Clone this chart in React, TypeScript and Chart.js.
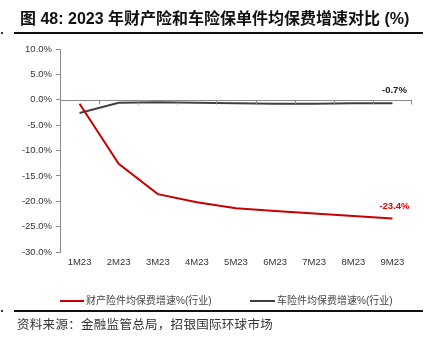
import React, { useEffect, useRef } from "react";
import { Chart, registerables } from "chart.js";

Chart.register(...registerables);

const categories = ["1M23", "2M23", "3M23", "4M23", "5M23", "6M23", "7M23", "8M23", "9M23"];
const propertyGrowth = [-0.8, -12.6, -18.6, -20.2, -21.4, -21.9, -22.4, -22.9, -23.4];
const autoGrowth = [-2.6, -0.6, -0.5, -0.6, -0.7, -0.8, -0.8, -0.7, -0.7];
const seriesNames = ["财产险件均保费增速%(行业)", "车险件均保费增速%(行业)"];
const seriesColors = ["#C80000", "#404040"];
const labelColors = ["#E00000", "#222222"];
const yMin = -30;
const yMax = 10;
const yStep = 5;

const titleText = "图 48: 2023 年财产险和车险保单件均保费增速对比 (%)";
const sourceText = "资料来源：金融监管总局，招银国际环球市场";

const zeroAxisPlugin = {
  id: "zeroAxis",
  afterDatasetsDraw(chart: any) {
    const { ctx, chartArea, scales } = chart;
    const y0 = Math.round(scales.y.getPixelForValue(0)) + 0.5;
    ctx.save();
    ctx.strokeStyle = "#8a8a8a";
    ctx.lineWidth = 1;
    ctx.beginPath();
    ctx.moveTo(chartArea.left, y0);
    ctx.lineTo(chartArea.right, y0);
    const n = categories.length;
    for (let i = 1; i <= n; i++) {
      const xx =
        i < n
          ? Math.round((scales.x.getPixelForValue(i - 1) + scales.x.getPixelForValue(i)) / 2) + 0.5
          : Math.round(chartArea.right) - 0.5;
      ctx.moveTo(xx, y0);
      ctx.lineTo(xx, y0 + 4);
    }
    ctx.stroke();
    ctx.restore();
  },
};

const endLabelPlugin = {
  id: "endLabels",
  afterDatasetsDraw(chart: any) {
    const { ctx } = chart;
    ctx.save();
    ctx.font = "bold 9.5px 'Liberation Sans', Arial, sans-serif";
    ctx.textAlign = "center";
    ctx.textBaseline = "middle";
    chart.data.datasets.forEach((ds: any, di: number) => {
      const meta = chart.getDatasetMeta(di);
      const last = meta.data[meta.data.length - 1];
      const v = ds.data[ds.data.length - 1];
      ctx.fillStyle = labelColors[di];
      ctx.fillText(v.toFixed(1) + "%", last.x + 2, last.y - 12.5);
    });
    ctx.restore();
  },
};

export default function App() {
  const canvasRef = useRef<HTMLCanvasElement | null>(null);

  useEffect(() => {
    if (!canvasRef.current) return;
    const chart = new Chart(canvasRef.current, {
      type: "line",
      data: {
        labels: categories,
        datasets: [
          {
            label: seriesNames[0],
            data: propertyGrowth,
            borderColor: seriesColors[0],
            backgroundColor: seriesColors[0],
            borderWidth: 2,
            pointRadius: 0,
            tension: 0,
          },
          {
            label: seriesNames[1],
            data: autoGrowth,
            borderColor: seriesColors[1],
            backgroundColor: seriesColors[1],
            borderWidth: 2,
            pointRadius: 0,
            tension: 0,
          },
        ],
      },
      options: {
        animation: false,
        responsive: false,
        maintainAspectRatio: false,
        layout: { padding: { left: 0, right: 26, top: 49, bottom: 62 } },
        plugins: {
          legend: { display: false },
          tooltip: { enabled: false },
        },
        scales: {
          x: {
            type: "category",
            offset: true,
            grid: { display: false, drawTicks: false },
            border: { display: false },
            ticks: {
              padding: 5,
              color: "#333333",
              font: { family: "'Liberation Sans', Arial, sans-serif", size: 9.5 },
              maxRotation: 0,
              autoSkip: false,
            },
            afterFit: (s: any) => {
              s.height = 30;
            },
          },
          y: {
            min: yMin,
            max: yMax,
            grid: {
              drawOnChartArea: false,
              drawTicks: true,
              tickLength: 4,
              color: "#8a8a8a",
            },
            border: { display: true, color: "#8a8a8a", width: 1 },
            ticks: {
              stepSize: yStep,
              padding: 4,
              color: "#333333",
              font: { family: "'Liberation Sans', Arial, sans-serif", size: 9.5 },
              callback: (v: any) => Number(v).toFixed(1) + "%",
            },
            afterFit: (s: any) => {
              s.width = 60;
            },
          },
        },
      },
      plugins: [zeroAxisPlugin, endLabelPlugin],
    });
    return () => chart.destroy();
  }, []);

  const cjk = "'Liberation Sans', 'Noto Sans CJK SC', sans-serif";

  return (
    <div style={{ position: "fixed", left: 0, top: 0, width: 438, height: 344, background: "#ffffff", overflow: "hidden" }}>
      <canvas ref={canvasRef} width={438} height={344} style={{ position: "absolute", left: 0, top: 0, width: 438, height: 344 }} />
      <div style={{ position: "absolute", left: 20, top: 10, fontFamily: cjk, fontWeight: "bold", fontSize: 16, lineHeight: "17px", color: "#111", whiteSpace: "nowrap" }}>
        {titleText}
      </div>
      <div style={{ position: "absolute", left: 14, top: 32, width: 409, height: 2, background: "#111" }} />
      <div style={{ position: "absolute", left: 1, top: 32, width: 2, height: 2, background: "#333" }} />
      <div style={{ position: "absolute", left: 60, top: 300, width: 24, height: 2, background: seriesColors[0] }} />
      <div style={{ position: "absolute", left: 86, top: 294, fontFamily: cjk, fontSize: 10, lineHeight: "13px", color: "#444", whiteSpace: "nowrap" }}>
        {seriesNames[0]}
      </div>
      <div style={{ position: "absolute", left: 250, top: 300, width: 25, height: 2, background: seriesColors[1] }} />
      <div style={{ position: "absolute", left: 277, top: 294, fontFamily: cjk, fontSize: 10, lineHeight: "13px", color: "#444", whiteSpace: "nowrap" }}>
        {seriesNames[1]}
      </div>
      <div style={{ position: "absolute", left: 14, top: 310, width: 409, height: 2, background: "#111" }} />
      <div style={{ position: "absolute", left: 1, top: 310, width: 2, height: 2, background: "#333" }} />
      <div style={{ position: "absolute", left: 17, top: 316, fontFamily: "'Noto Sans CJK SC', sans-serif", fontSize: 12.5, lineHeight: "16px", color: "#333", whiteSpace: "nowrap", letterSpacing: 0.3 }}>
        {sourceText}
      </div>
    </div>
  );
}
